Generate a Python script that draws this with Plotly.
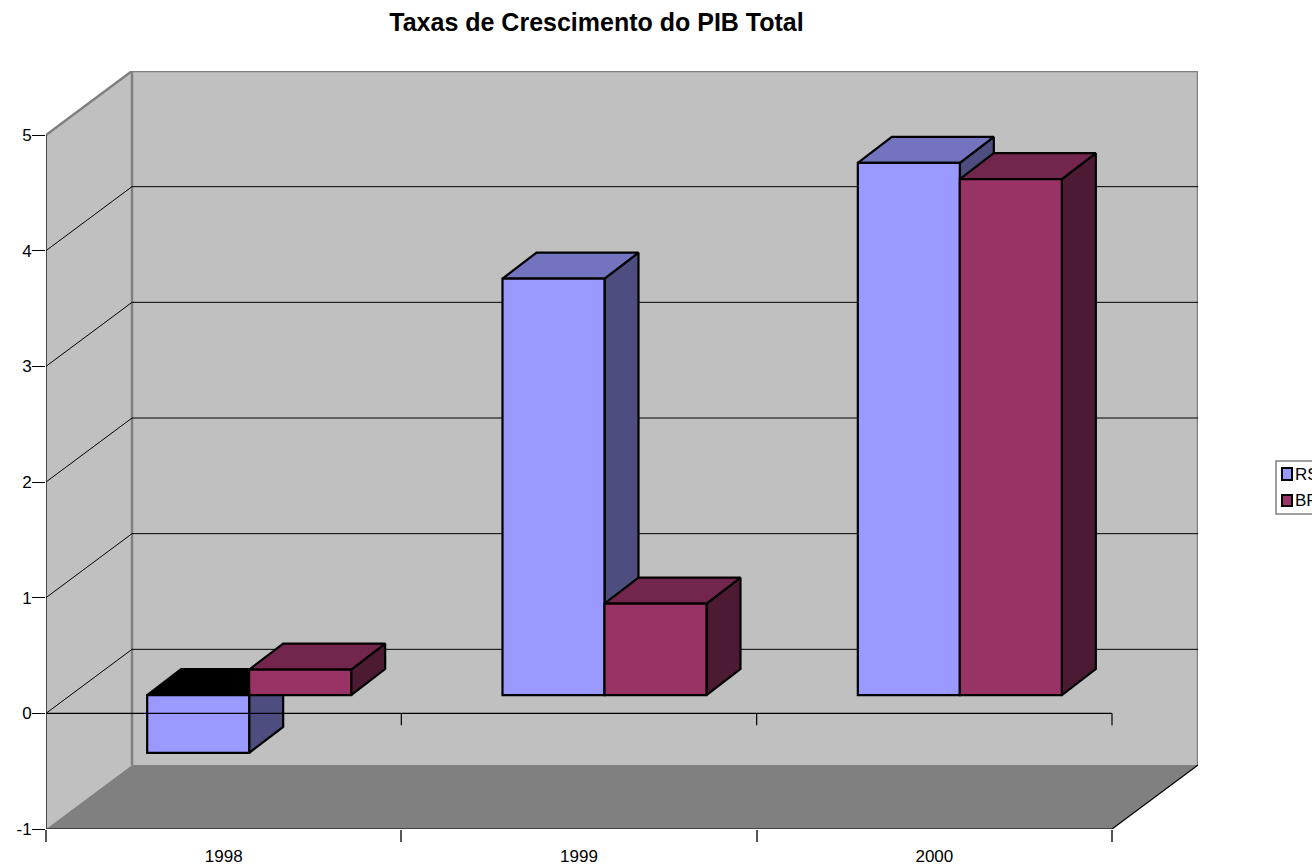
import plotly.graph_objects as go

# ---- data ----
categories = ["1998", "1999", "2000"]
rs_values = [-0.5, 3.6, 4.6]
br_values = [0.22, 0.79, 4.46]
series_names = ["RS", "BR"]
y_ticks = [-1, 0, 1, 2, 3, 4, 5]
title_text = "Taxas de Crescimento do PIB Total"

# ---- styling / geometry (pixels) ----
W, H = 1312, 864
L, R, T, B = 46, 114, 71, 35
PX_X = 1066 / 3            # px per category
PX_Y = 694 / 6             # px per y unit
WALL_DX, WALL_DY = 86 / PX_X, 64 / PX_Y
BAR_W = 102 / PX_X
NEAR_DX, NEAR_DY = 25.5 / PX_X, 18.3 / PX_Y
DEEP_DX, DEEP_DY = 34 / PX_X, 26 / PX_Y
TICK_DY = 12 / PX_Y
FONT = "Liberation Sans, Arial, sans-serif"
WALL, FLOOR, EDGE = "#C0C0C0", "#808080", "#808080"
COL = {
    "RS": dict(front="#9999FF", top="#7373BF", side="#4D4D80"),
    "BR": dict(front="#993366", top="#73264D", side="#4D1A33"),
}


def path(points):
    return "M" + "L".join(f"{x},{y}" for x, y in points) + "Z"


def poly(points):
    xs = [p[0] for p in points] + [points[0][0]]
    ys = [p[1] for p in points] + [points[0][1]]
    return xs, ys


def segs(pairs):
    xs, ys = [], []
    for a, b in pairs:
        xs += [a[0], b[0], None]
        ys += [a[1], b[1], None]
    return xs, ys


n = len(categories)
ymin, ymax = y_ticks[0], y_ticks[-1]
fig = go.Figure()

# walls and floor
shapes = [
    dict(type="path", layer="below", xref="x", yref="y", line=dict(width=0), fillcolor=WALL,
         path=path([(0, ymin), (WALL_DX, ymin + WALL_DY), (WALL_DX, ymax + WALL_DY), (0, ymax)])),
    dict(type="path", layer="below", xref="x", yref="y", line=dict(width=0), fillcolor=WALL,
         path=path([(WALL_DX, ymin + WALL_DY), (n + WALL_DX, ymin + WALL_DY),
                    (n + WALL_DX, ymax + WALL_DY), (WALL_DX, ymax + WALL_DY)])),
    dict(type="path", layer="below", xref="x", yref="y", line=dict(width=0), fillcolor=FLOOR,
         path=path([(0, ymin), (WALL_DX, ymin + WALL_DY), (n + WALL_DX, ymin + WALL_DY), (n, ymin)])),
]

# wall edges
x, y = segs([((0, ymax), (WALL_DX, ymax + WALL_DY)),
             ((WALL_DX, ymax + WALL_DY), (n + WALL_DX, ymax + WALL_DY)),
             ((WALL_DX, ymax + WALL_DY), (WALL_DX, ymin + WALL_DY)),
             ((n + WALL_DX, ymax + WALL_DY), (n + WALL_DX, ymin + WALL_DY))])
fig.add_trace(go.Scatter(x=x, y=y, mode="lines", line=dict(color=EDGE, width=2.5), zorder=0,
                         hoverinfo="skip", showlegend=False, cliponaxis=False))

# gridlines
pairs = []
for v in y_ticks[1:-1]:
    pairs.append(((0, v), (WALL_DX, v + WALL_DY)))
    pairs.append(((WALL_DX, v + WALL_DY), (n + WALL_DX, v + WALL_DY)))
x, y = segs(pairs)
fig.add_trace(go.Scatter(x=x, y=y, mode="lines", line=dict(color="#000000", width=1), zorder=0,
                         hoverinfo="skip", showlegend=False))


def add_series(name, values, offset, z):
    c = COL[name]
    tops_pos, tops_neg, sides = [], [], []
    centres = []
    for i, v in enumerate(values):
        cx = i + 0.5 + NEAR_DX + offset * BAR_W
        centres.append(cx)
        x0, x1 = cx - BAR_W / 2, cx + BAR_W / 2
        yt, yb = NEAR_DY + max(v, 0), NEAR_DY + min(v, 0)
        top = [(x0, yt), (x0 + DEEP_DX, yt + DEEP_DY), (x1 + DEEP_DX, yt + DEEP_DY), (x1, yt)]
        (tops_neg if v < 0 else tops_pos).append(top)
        sides.append([(x1, yb), (x1 + DEEP_DX, yb + DEEP_DY), (x1 + DEEP_DX, yt + DEEP_DY), (x1, yt)])
    for polys, colr in ((sides, c["side"]), (tops_pos, c["top"]), (tops_neg, "#000000")):
        xs, ys = [], []
        for p in polys:
            a, b = poly(p)
            xs += a + [None]
            ys += b + [None]
        if xs:
            fig.add_trace(go.Scatter(x=xs, y=ys, mode="lines", fill="toself", fillcolor=colr,
                                     line=dict(color="#000000", width=2.2), zorder=z,
                                     hoverinfo="skip", showlegend=False))
    fig.add_trace(go.Bar(x=centres, y=values, base=NEAR_DY, width=BAR_W, name=name,
                         marker=dict(color=c["front"], line=dict(color="#000000", width=2.2)),
                         zorder=z + 1, showlegend=False))


add_series(series_names[0], rs_values, -0.5, 1)
add_series(series_names[1], br_values, 0.5, 3)

# category axis in the plane of zero, floor front edge, value axis line
pairs = [((0, 0), (n, 0)), ((0, ymin), (n, ymin)), ((n, ymin), (n + WALL_DX, ymin + WALL_DY))]
pairs += [((i, 0), (i, -TICK_DY)) for i in range(1, n + 1)]
x, y = segs(pairs)
fig.add_trace(go.Scatter(x=x, y=y, mode="lines", line=dict(color="#000000", width=1.2), zorder=5,
                         hoverinfo="skip", showlegend=False, cliponaxis=False))
x, y = segs([((0, ymax), (0, ymin))])
fig.add_trace(go.Scatter(x=x, y=y, mode="lines", line=dict(color="#222222", width=1.5), zorder=5,
                         hoverinfo="skip", showlegend=False, cliponaxis=False))


# legend (clipped by the right edge of the page as in the reference)
def px(v):
    return (v - L) / (W - L - R)


def py(v):
    return 1 - (v - T) / (H - T - B)


shapes.append(dict(type="rect", xref="paper", yref="paper", x0=px(1276), x1=px(1340),
                   y0=py(461), y1=py(514), fillcolor="#FFFFFF", line=dict(color="#808080", width=1.5)))
annotations = []
for name, y0, y1 in ((series_names[0], 468, 480), (series_names[1], 495, 506)):
    shapes.append(dict(type="rect", xref="paper", yref="paper", x0=px(1282), x1=px(1292),
                       y0=py(y0), y1=py(y1), fillcolor=COL[name]["front"],
                       line=dict(color="#000000", width=2)))
    annotations.append(dict(xref="paper", yref="paper", x=px(1293), y=py((y0 + y1) / 2), text=name,
                            showarrow=False, xanchor="left", yanchor="middle",
                            font=dict(family=FONT, size=17, color="#000000")))

fig.update_layout(
    width=W, height=H, autosize=False,
    margin=dict(l=L, r=R, t=T, b=B, pad=0),
    paper_bgcolor="#FFFFFF", plot_bgcolor="#FFFFFF",
    barmode="overlay", showlegend=False, shapes=shapes, annotations=annotations,
    title=dict(text=f"<b>{title_text}</b>", x=596.5 / W, xref="container", xanchor="center",
               y=1 - 22 / H, yref="container", yanchor="middle", automargin=False,
               font=dict(family=FONT, size=25, color="#000000")),
    font=dict(family=FONT, size=17, color="#000000"),
    xaxis=dict(range=[0, n + WALL_DX], showgrid=False, zeroline=False, showline=False, automargin=False,
               tickmode="array", tickvals=[i + 0.5 for i in range(n)], ticktext=categories,
               ticks="outside", ticklen=12, tickcolor="rgba(0,0,0,0)",
               minor=dict(tickmode="array", tickvals=list(range(n + 1)), ticks="outside",
                          ticklen=12, tickcolor="#555555", tickwidth=1.5, showgrid=False)),
    yaxis=dict(range=[ymin, ymax + WALL_DY], showgrid=False, zeroline=False, showline=False, automargin=False,
               tickmode="array", tickvals=y_ticks, ticktext=[str(v) for v in y_ticks],
               ticks="outside", ticklen=13, tickcolor="#000000", tickwidth=1, ticklabelstandoff=-3),
)

fig.write_html("out.html", config={"displayModeBar": False, "responsive": False},
               post_script="document.body.style.margin='0';document.body.style.overflow='hidden';")
